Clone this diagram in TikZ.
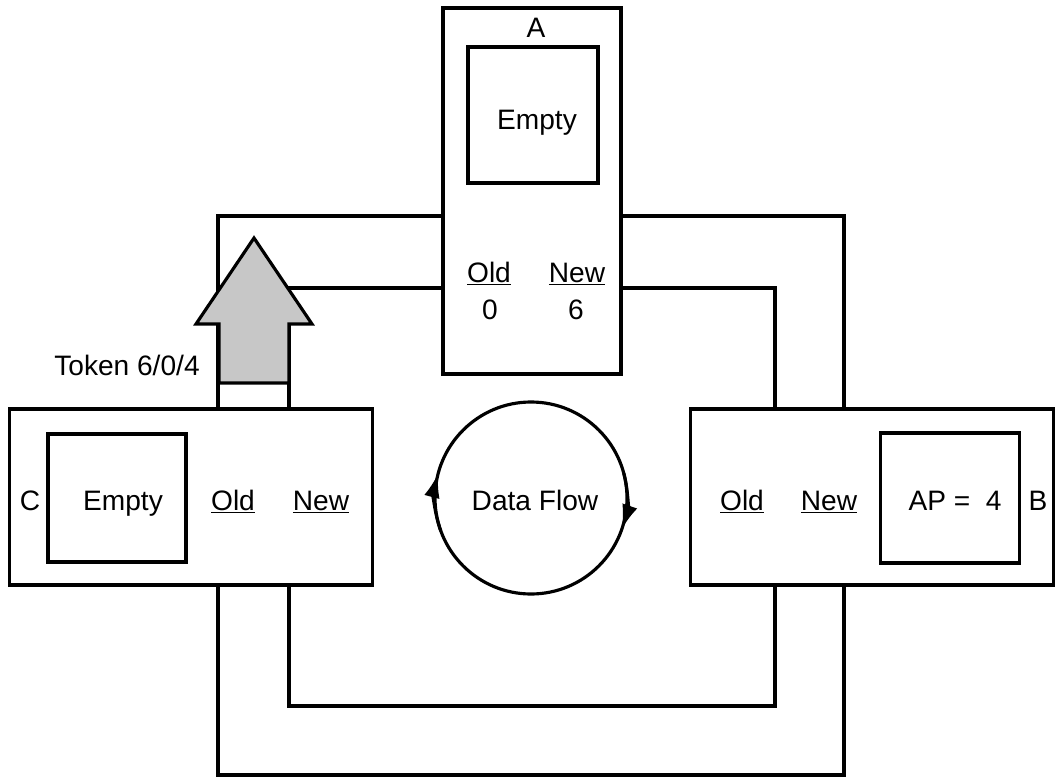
\documentclass[tikz,border=0pt]{standalone}
\usepackage{fontspec}
\setmainfont{Liberation Sans}
\usepackage{tikz}
\usetikzlibrary{arrows.meta}

\begin{document}
\begin{tikzpicture}[x=0.02cm,y=-0.02cm,>={Latex[length=14pt,width=9pt]},
    line width=1.8pt,font=\fontsize{16}{19}\selectfont]
  \tikzstyle{unit}=[draw,inner sep=0pt]
  \tikzstyle{slot}=[draw,inner sep=0pt]
  \tikzstyle{lbl}=[anchor=base,inner sep=0pt]
  \useasboundingbox (0,0) rectangle (1055,777);
  % processors
  \node[unit,minimum width=3.56cm,minimum height=7.32cm] (A) at (532,191) {};
  \node[unit,minimum width=7.26cm,minimum height=3.52cm] (C) at (191,497) {};
  \node[unit,minimum width=7.26cm,minimum height=3.52cm] (B) at (872,497) {};
  % buffers
  \node[slot,minimum width=2.6cm,minimum height=2.72cm] (Abuf) at (533,115) {};
  \node[slot,minimum width=2.76cm,minimum height=2.56cm] (Cbuf) at (117,498) {};
  \node[slot,minimum width=2.78cm,minimum height=2.6cm] (Bbuf) at (950,498) {};
  % labels
  \node[lbl] (Aname) at (536,38) {A};
  \node[lbl] (Aempty) at (537,130) {Empty};
  \node[lbl] (Aold) at (489,282) {\underline{Old}};
  \node[lbl] (Anew) at (577,282) {\underline{New}};
  \node[lbl] (Aoldval) at (490,319) {0};
  \node[lbl] (Anewval) at (576,319) {6};
  \node[lbl] (Cname) at (30,510) {C};
  \node[lbl] (Cempty) at (123,510) {Empty};
  \node[lbl] (Cold) at (233,510) {\underline{Old}};
  \node[lbl] (Cnew) at (321,510) {\underline{New}};
  \node[lbl] (Bold) at (742,510) {\underline{Old}};
  \node[lbl] (Bnew) at (829,510) {\underline{New}};
  \node[lbl] (Bap) at (955,510) {AP =\ \ 4};
  \node[lbl] (Bname) at (1038,510) {B};
  \node[lbl] (flowlbl) at (535,510) {Data Flow};
  \node[lbl] (toklbl) at (127,375) {Token 6/0/4};
  % ring lines
  \coordinate (xo1) at (218,0);
  \coordinate (xi1) at (289,0);
  \coordinate (xi2) at (775,0);
  \coordinate (xo2) at (844,0);
  \coordinate (yo1) at (0,216);
  \coordinate (yi1) at (0,288);
  \coordinate (yi2) at (0,706);
  \coordinate (yo2) at (0,775);
  \draw (C.north -| xo1) |- (A.west |- yo1);
  \draw (C.north -| xi1) |- (A.west |- yi1);
  \draw (A.east |- yo1) -| (B.north -| xo2);
  \draw (A.east |- yi1) -| (B.north -| xi2);
  \draw (C.south -| xo1) |- (xo2 |- yo2) -- (B.south -| xo2);
  \draw (C.south -| xi1) |- (xi2 |- yi2) -- (B.south -| xi2);
  % token
  \draw[fill=black!22] (219,383) -- (219,324) -- (196,324) -- (254,238)
    -- (312,324) -- (289,324) -- (289,383) -- cycle;
  % data flow
  \coordinate (flowc) at (531,498);
  \draw (flowc) circle (96);
  \draw[->] (flowc) ++(160:96) arc[start angle=160,end angle=195,radius=96];
  \draw[->] (flowc) ++(-15:96) arc[start angle=-15,end angle=19,radius=96];
\end{tikzpicture}
\end{document}
